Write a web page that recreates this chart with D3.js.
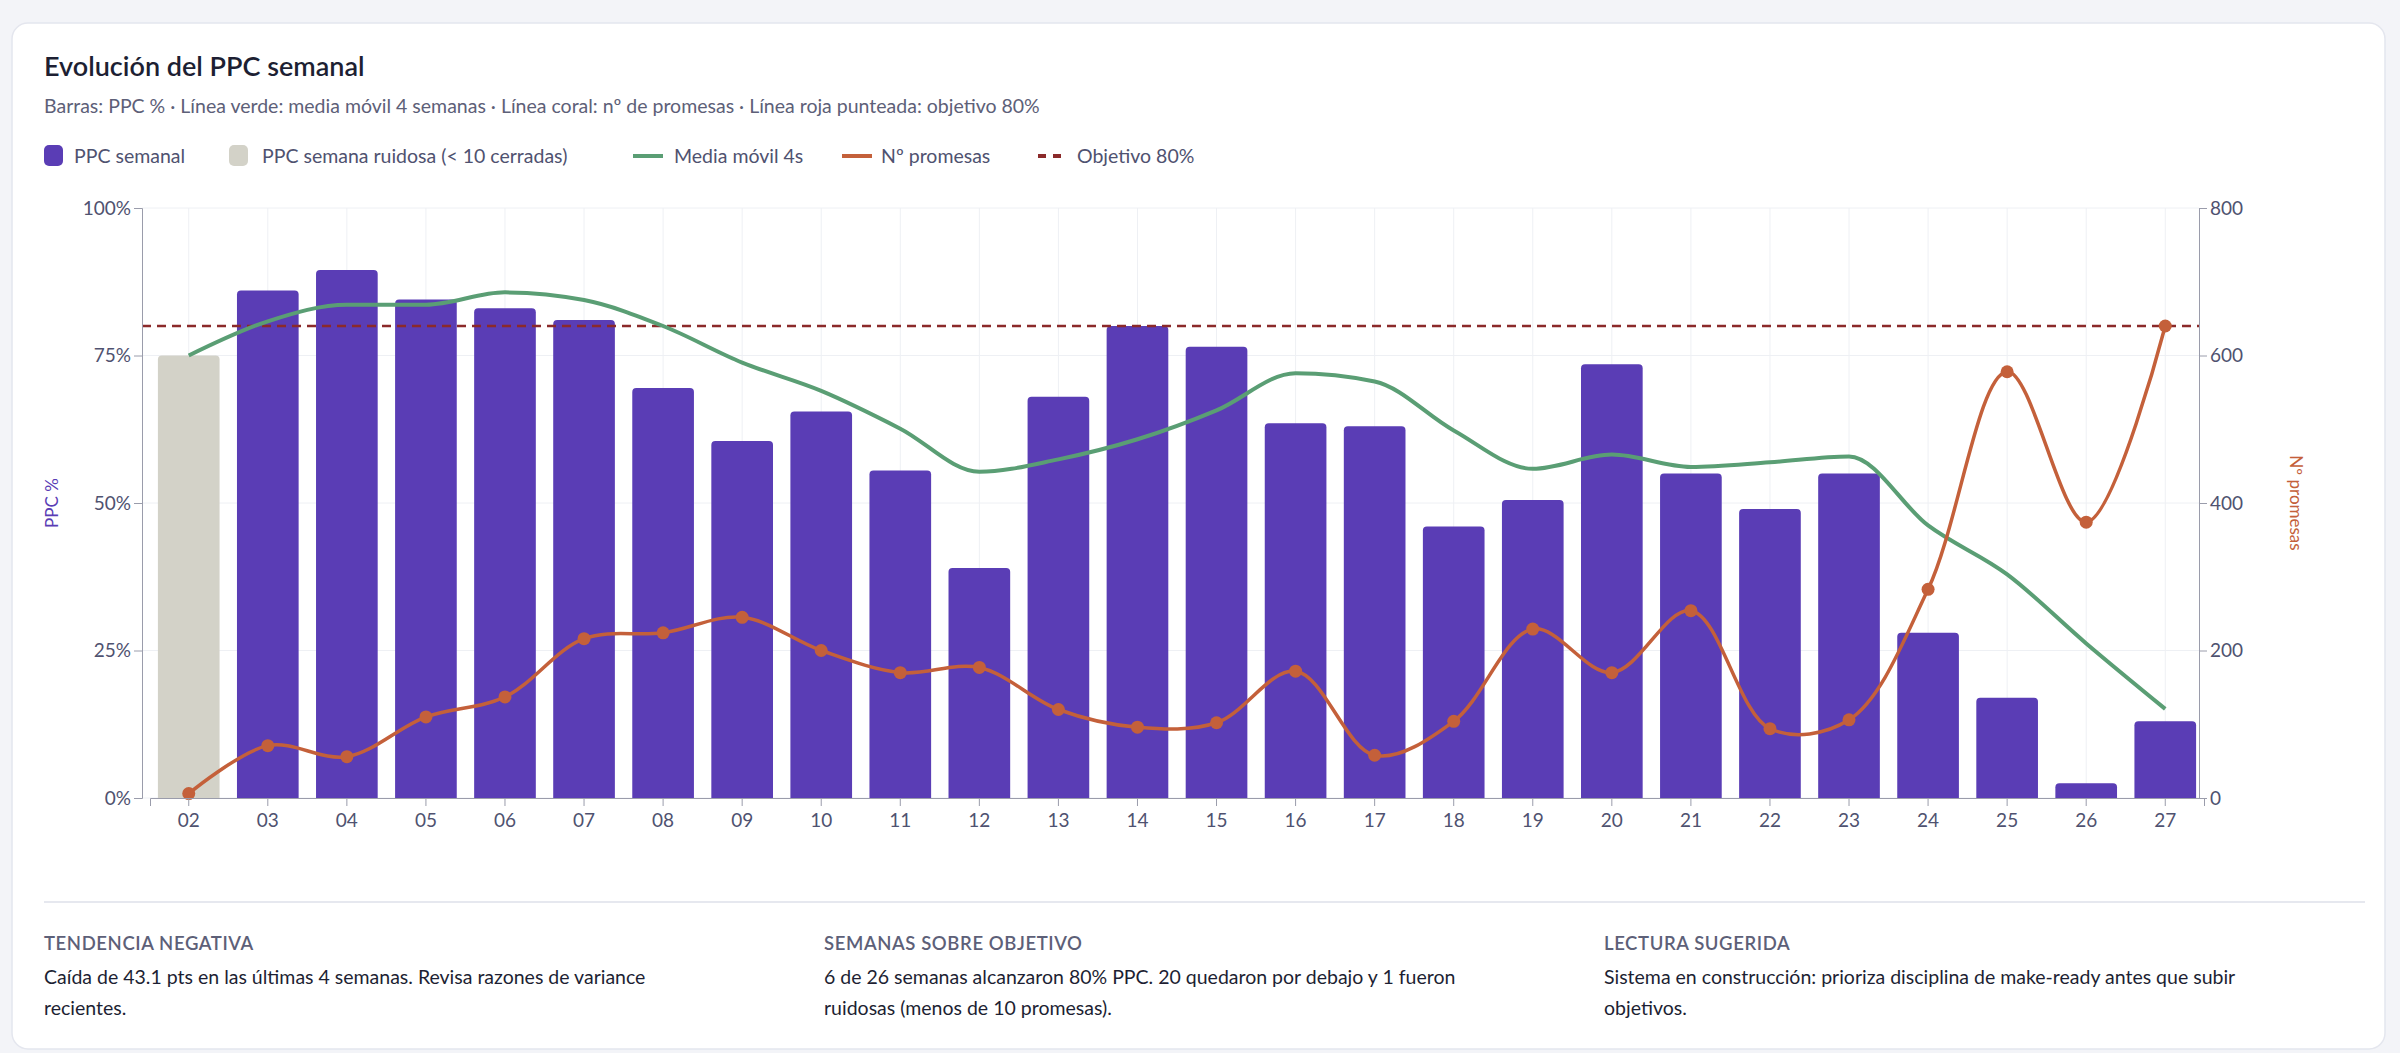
<!DOCTYPE html>
<html><head><meta charset="utf-8">
<script src="https://cdn.jsdelivr.net/npm/d3@7/dist/d3.min.js"></script>
<style>
body{margin:0;background:#f3f4f8;font-family:Lato,"Noto Sans",sans-serif;}
</style></head><body>
<svg id="c" width="2400" height="1053"></svg>
<script>
const weeks=["02","03","04","05","06","07","08","09","10","11","12","13","14","15","16","17","18","19","20","21","22","23","24","25","26","27"];
const ppc=[75,86,89.5,84.5,83,81,69.5,60.5,65.5,55.5,39,68,80,76.5,63.5,63,46,50.5,73.5,55,49,55,28,17,2.5,13];
const noisy=[true,false,false,false,false,false,false,false,false,false,false,false,false,false,false,false,false,false,false,false,false,false,false,false,false,false];
const movAvg=[75,80.8,83.6,83.6,85.7,84.4,80,73.8,69,62.6,55.3,57.4,60.8,65.7,72,70.6,62.3,55.8,58.2,56.1,56.9,57.9,46.2,37.9,26.2,15.1];
const promesas=[6,71,56,110,137,216,224,245,200,170,177,120,96,102,172,58,104,229,170,254,94,106,283,578,374,640];
const leftTicks=[0,25,50,75,100];
const rightTicks=[0,200,400,600,800];
const target=80;

const svg=d3.select("#c");
svg.append("rect").attr("x",12).attr("y",23).attr("width",2373).attr("height",1026).attr("rx",16).attr("fill","#fff").attr("stroke","#e4e6ee").attr("stroke-width",1.5);
svg.append("text").attr("x",44).attr("y",76).attr("font-size",27).attr("font-weight",600).attr("fill","#1d1f33").text("Evolución del PPC semanal");
svg.append("text").attr("x",44).attr("y",113).attr("font-size",19.5).attr("fill","#5d6078").text("Barras: PPC % · Línea verde: media móvil 4 semanas · Línea coral: nº de promesas · Línea roja punteada: objetivo 80%");

// legend
const lg=svg.append("g").attr("font-size",19.5).attr("fill","#4f5270");
function legSwatch(x,c){lg.append("rect").attr("x",x).attr("y",145).attr("width",19).attr("height",21).attr("rx",5).attr("fill",c);}
function legLine(x,c,dash){lg.append("line").attr("x1",x).attr("x2",x+30).attr("y1",156).attr("y2",156).attr("stroke",c).attr("stroke-width",4).attr("stroke-dasharray",dash||null);}
legSwatch(44,"#5a3db5");lg.append("text").attr("x",74).attr("y",163).text("PPC semanal");
legSwatch(229,"#d3d2c8");lg.append("text").attr("x",262).attr("y",163).text("PPC semana ruidosa (< 10 cerradas)");
legLine(633,"#5a9e74");lg.append("text").attr("x",674).attr("y",163).text("Media móvil 4s");
legLine(842,"#c4603a");lg.append("text").attr("x",881).attr("y",163).text("Nº promesas");
legLine(1038,"#8b2a2a","8,7");lg.append("text").attr("x",1077).attr("y",163).text("Objetivo 80%");

const L=142,R=2199,T=208,B=798;
const x=d3.scaleBand().domain(weeks).range([L+8,R+5]).paddingInner(0.22).paddingOuter(0.1);
const y=d3.scaleLinear().domain([0,100]).range([B,T]);
const y2=d3.scaleLinear().domain([0,800]).range([B,T]);
const cx=d=>x(d)+x.bandwidth()/2;

// grid
const g=svg.append("g");
g.selectAll(".vg").data(weeks).join("line").attr("x1",cx).attr("x2",cx).attr("y1",T).attr("y2",B).attr("stroke","#eef0f4");
g.selectAll(".hg").data(leftTicks).join("line").attr("x1",L).attr("x2",R).attr("y1",y).attr("y2",y).attr("stroke","#eef0f4");

// bars
svg.selectAll(".bar").data(weeks).join("path").attr("fill",(d,i)=>noisy[i]?"#d3d2c8":"#5a3db5")
 .attr("d",(d,i)=>{const x0=x(d),w=x.bandwidth(),y0=y(ppc[i]),r=Math.min(4,(B-y0)/2);
   return `M${x0},${B}V${y0+r}Q${x0},${y0} ${x0+r},${y0}H${x0+w-r}Q${x0+w},${y0} ${x0+w},${y0+r}V${B}Z`;});

// target
svg.append("line").attr("x1",L).attr("x2",R).attr("y1",y(target)).attr("y2",y(target)).attr("stroke","#8b2a2a").attr("stroke-width",2.5).attr("stroke-dasharray","9,6");

// moving avg
svg.append("path").datum(movAvg).attr("fill","none").attr("stroke","#5a9e74").attr("stroke-width",4)
 .attr("d",d3.line().x((d,i)=>cx(weeks[i])).y(d=>y(d)).curve(d3.curveMonotoneX));
// promesas
svg.append("path").datum(promesas).attr("fill","none").attr("stroke","#c4603a").attr("stroke-width",3.5)
 .attr("d",d3.line().x((d,i)=>cx(weeks[i])).y(d=>y2(d)).curve(d3.curveCatmullRom.alpha(0.5)));
svg.selectAll(".pt").data(promesas).join("circle").attr("cx",(d,i)=>cx(weeks[i])).attr("cy",d=>y2(d)).attr("r",6.5).attr("fill","#c4603a");

// axes
const st=s=>s.call(a=>{a.select(".domain").attr("stroke","#9a9cab");a.selectAll("line").attr("stroke","#9a9cab");a.selectAll("text").attr("font-size",19).attr("fill","#4f5270").attr("font-family","Lato,sans-serif");});
svg.append("g").attr("transform",`translate(${L},0)`).call(d3.axisLeft(y).tickValues(leftTicks).tickFormat(d=>d+"%").tickSize(8)).call(st);
svg.append("g").attr("transform",`translate(${R},0)`).call(d3.axisRight(y2).tickValues(rightTicks).tickSize(8)).call(st);
svg.append("g").attr("transform",`translate(0,${B})`).call(d3.axisBottom(x).tickSize(8).tickPadding(8)).call(st);
svg.append("text").attr("transform",`translate(58,${(T+B)/2}) rotate(-90)`).attr("text-anchor","middle").attr("font-size",17).attr("fill","#5a3db5").text("PPC %");
svg.append("text").attr("transform",`translate(2290,${(T+B)/2}) rotate(90)`).attr("text-anchor","middle").attr("font-size",17).attr("fill","#c4603a").text("Nº promesas");

// footer
svg.append("line").attr("x1",44).attr("x2",2365).attr("y1",902).attr("y2",902).attr("stroke","#e6e8ef").attr("stroke-width",2);
const foot=[
 ["TENDENCIA NEGATIVA","Caída de 43.1 pts en las últimas 4 semanas. Revisa razones de variance","recientes."],
 ["SEMANAS SOBRE OBJETIVO","6 de 26 semanas alcanzaron 80% PPC. 20 quedaron por debajo y 1 fueron","ruidosas (menos de 10 promesas)."],
 ["LECTURA SUGERIDA","Sistema en construcción: prioriza disciplina de make-ready antes que subir","objetivos."]];
const fx=[44,824,1604];
foot.forEach((f,i)=>{
 svg.append("text").attr("x",fx[i]).attr("y",950).attr("font-size",18.5).attr("font-weight",600).attr("letter-spacing",0.6).attr("fill","#5d6078").text(f[0]);
 svg.append("text").attr("x",fx[i]).attr("y",984).attr("font-size",19.5).attr("fill","#1d1f33").text(f[1]);
 svg.append("text").attr("x",fx[i]).attr("y",1015).attr("font-size",19.5).attr("fill","#1d1f33").text(f[2]);
});
</script></body></html>
